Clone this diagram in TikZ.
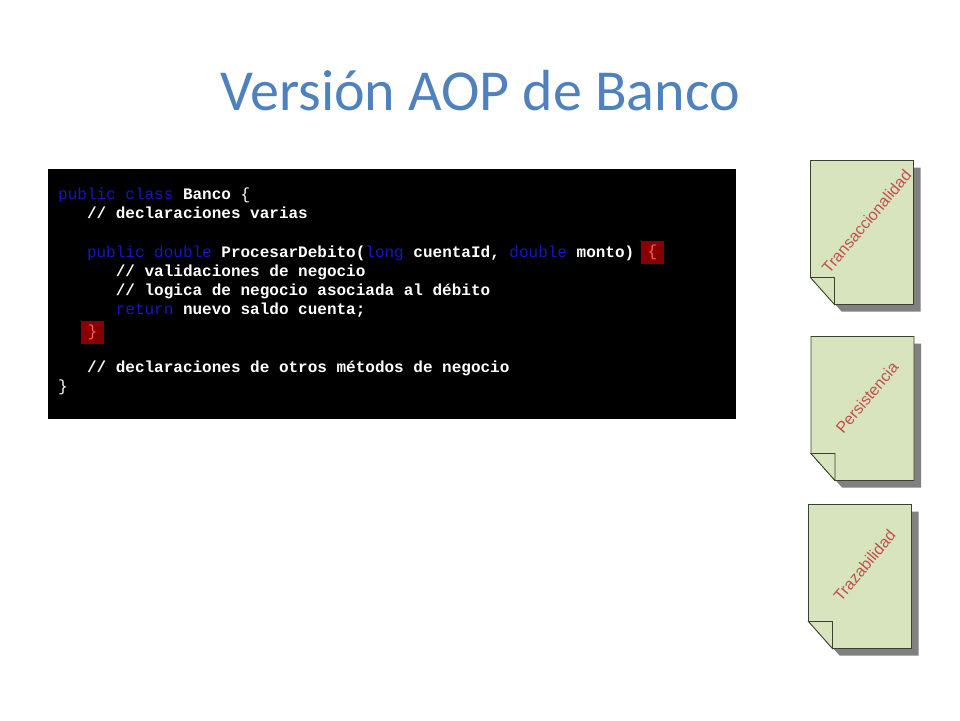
\documentclass[tikz,border=0pt]{standalone}
\usepackage{fontspec}
\setmainfont{Carlito}
\newfontfamily\codefont{Liberation Mono}
\newfontfamily\notefont{Liberation Sans}
\usepackage{tikz}
\usetikzlibrary{calc, positioning}

\definecolor{titleblue}{RGB}{79,129,189}
\definecolor{kwblue}{RGB}{22,22,190}
\definecolor{bracebox}{RGB}{135,0,0}
\definecolor{bracered}{RGB}{255,95,95}
\definecolor{notegreen}{RGB}{215,228,189}
\definecolor{noteline}{RGB}{60,66,50}
\definecolor{notetext}{RGB}{192,80,77}
\definecolor{shadowgray}{RGB}{128,128,128}

\newcommand{\kw}[1]{\textcolor{kwblue}{\mdseries #1}}

\tikzset{
  codeline/.style={anchor=base west, inner sep=0pt, text=white,
    font=\codefont\fontsize{16}{19}\selectfont\bfseries},
  bracebox/.style={fill=bracebox, minimum size=23pt, inner sep=0pt, text=bracered,
    font=\codefont\fontsize{16}{19}\selectfont},
  notelabel/.style={rotate=50, text=notetext, font=\notefont\fontsize{16}{19}\selectfont}
}

\begin{document}
\begin{tikzpicture}[x=1pt, y=-1pt]
  \useasboundingbox (0,0) rectangle (960,720);
  \node (title) at (480,110) [anchor=base, text=titleblue, font=\fontsize{58}{64}\selectfont] {Versión AOP de Banco};
  % code panel
  \fill [black] (48,169) rectangle (736,419);
  \node (l1) at (58,199.5) [codeline] {\kw{public class} Banco {\mdseries\{}};
  \node (l2) at (86.8,218.7) [codeline] {// declaraciones varias};
  \node (l3) at (86.8,257.1) [codeline] {\kw{public double} ProcesarDebito(\kw{long} cuentaId, \kw{double} monto)};
  \node (l4) at (115.6,276.3) [codeline] {// validaciones de negocio};
  \node (l5) at (115.6,295.5) [codeline] {// logica de negocio asociada al débito};
  \node (l6) at (115.6,314.7) [codeline] {\kw{return} nuevo saldo cuenta;};
  \node (l7) at (86.8,372.3) [codeline] {// declaraciones de otros métodos de negocio};
  \node (l8) at (58,391.5) [codeline] {\mdseries\}};
  \node (open) at (652.5,252.5) [bracebox] {\{};
  \node (close) at (92.5,332.5) [bracebox] {\}};
  % aspect notes
  \foreach \x/\y/\name/\lbl in {810.5/160.5/trans/Transaccionalidad, 811/336.5/pers/Persistencia, 808.5/504.5/traz/Trazabilidad} {
    \fill [shadowgray] (\x+7,\y+7) -- ++(103,0) -- ++(0,144) -- ++(-79,0) -- ++(-24,-27) -- cycle;
    \draw [fill=notegreen, draw=noteline, thick] (\x,\y) -- ++(103,0) -- ++(0,144) -- ++(-79,0) -- ++(-24,-27) -- cycle;
    \draw [fill=notegreen, draw=noteline, thick] (\x,\y+117) -- ++(24,0) -- ++(0,27) -- cycle;
    \node (\name) at (\x+56,\y+61) [notelabel] {\lbl};
  }
\end{tikzpicture}
\end{document}
